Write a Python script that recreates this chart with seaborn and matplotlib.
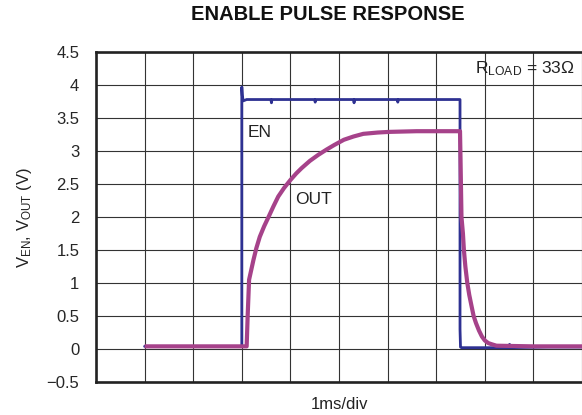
import matplotlib
matplotlib.use("Agg")
import matplotlib.pyplot as plt
import seaborn as sns
import pandas as pd

# Time axis in divisions (1 ms/div), voltages in volts
en_time = [1.0, 3.0, 3.0, 3.01, 3.03, 3.1, 3.6, 3.61, 3.62, 4.5, 4.51, 4.52, 5.3, 5.31, 5.32,
           6.2, 6.21, 6.22, 7.0, 7.49, 7.49, 7.5, 7.52, 8.0, 8.5, 8.51, 8.52, 9.3, 10.0]
en_volts = [0.04, 0.04, 3.97, 3.84, 3.76, 3.78, 3.78, 3.73, 3.78, 3.78, 3.74, 3.78, 3.78, 3.73, 3.78,
            3.78, 3.74, 3.78, 3.78, 3.78, 0.30, 0.03, 0.02, 0.02, 0.02, 0.07, 0.02, 0.03, 0.03]

out_time = [1.0, 3.10, 3.12, 3.15, 3.24, 3.30, 3.37, 3.46, 3.55, 3.65, 3.75, 3.87, 4.0, 4.12,
            4.23, 4.40, 4.57, 4.74, 4.90, 5.10, 5.30, 5.5, 5.8, 6.05, 6.6, 7.0, 7.46, 7.49,
            7.50, 7.52, 7.55, 7.57, 7.60, 7.64, 7.68, 7.73, 7.77, 7.82, 7.88, 7.94, 8.0, 8.07,
            8.15, 8.24, 9.0, 10.0]
out_volts = [0.04, 0.04, 0.49, 1.05, 1.35, 1.53, 1.70, 1.86, 2.00, 2.16, 2.31, 2.44, 2.56, 2.66,
             2.74, 2.85, 2.94, 3.02, 3.09, 3.17, 3.22, 3.26, 3.28, 3.29, 3.30, 3.30, 3.30, 3.30,
             2.90, 2.00, 1.75, 1.50, 1.25, 1.00, 0.82, 0.64, 0.50, 0.39, 0.28, 0.19, 0.13, 0.09,
             0.07, 0.05, 0.04, 0.04]

y_ticks = [-0.5, 0, 0.5, 1, 1.5, 2, 2.5, 3, 3.5, 4, 4.5]
y_tick_labels = ["\u22120.5", "0", "0.5", "1", "1.5", "2", "2.5", "3", "3.5", "4", "4.5"]
x_divs = list(range(0, 11))

EN_COLOR = "#2E3192"
OUT_COLOR = "#A6428A"

sns.set_theme(style="white")
plt.rcParams["font.family"] = ["Liberation Sans", "DejaVu Sans"]
plt.rcParams["mathtext.fontset"] = "custom"
plt.rcParams["mathtext.rm"] = "Liberation Sans"
plt.rcParams["mathtext.it"] = "Liberation Sans"

fig = plt.figure(figsize=(5.82, 4.15), dpi=100)
ax = fig.add_axes([96 / 582, 33 / 415, 1 - 96 / 582, 330 / 415])

en_df = pd.DataFrame({"t": en_time, "v": en_volts})
out_df = pd.DataFrame({"t": out_time, "v": out_volts})

sns.lineplot(data=en_df, x="t", y="v", ax=ax, color=EN_COLOR, linewidth=2.0,
             estimator=None, sort=False, zorder=3)
sns.lineplot(data=out_df, x="t", y="v", ax=ax, color=OUT_COLOR, linewidth=3.0,
             estimator=None, sort=False, zorder=4, solid_capstyle="butt")

ax.set_xlim(0, 10)
ax.set_ylim(-0.5, 4.5)
ax.set_xticks(x_divs)
ax.set_xticklabels([])
ax.set_yticks(y_ticks)
ax.set_yticklabels(y_tick_labels, fontsize=12)
ax.tick_params(axis="both", length=0)
ax.tick_params(axis="y", pad=12)
ax.grid(True, color="#333333", linewidth=0.8)
ax.set_axisbelow(True)
for side in ["left", "bottom", "top"]:
    ax.spines[side].set_color("#222222")
    ax.spines[side].set_linewidth(1.9)
ax.spines["right"].set_visible(False)
ax.set_xlabel("")
ax.set_ylabel("")

ax.text(3.13, 3.39, "EN", fontsize=12.5, ha="left", va="top", color="#222222", zorder=5)
ax.text(4.09, 2.38, "OUT", fontsize=12.5, ha="left", va="top", color="#222222", zorder=5)
ax.text(9.84, 4.39, "R$_{\\mathregular{LOAD}}$ = 33\u03a9",
        fontsize=12.5, ha="right", va="top", color="#222222", zorder=5)

fig.text(327.5 / 582, 1 - 15 / 415, "ENABLE PULSE RESPONSE", fontsize=14.5,
         fontweight="bold", ha="center", va="center", color="#111111")
fig.text(339 / 582, 1 - 404 / 415, "1ms/div", fontsize=12, ha="center", va="center",
         color="#222222")
fig.text(25 / 582, 1 - 217 / 415, "V$_{\\mathregular{EN}}$, V$_{\\mathregular{OUT}}$ (V)",
         fontsize=12, rotation=90, ha="center", va="center", color="#222222")

fig.savefig("out.png", dpi=100)
